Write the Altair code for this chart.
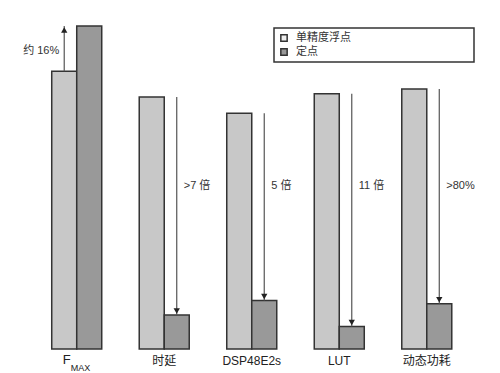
import altair as alt
import pandas as pd

categories = ["FMAX", "时延", "DSP48E2s", "LUT", "动态功耗"]
cat_labels = ["F", "时延", "DSP48E2s", "LUT", "动态功耗"]
series = ["单精度浮点", "定点"]
float_vals = [86, 78, 73, 79, 80.5]
fixed_vals = [100, 10.5, 15, 7, 14]
arrow_texts = ["约 16%", ">7 倍", "5 倍", "11 倍", ">80%"]
legend_fills = ["#eeeeee", "#999999"]

FONT = "Arial, Liberation Sans, Noto Sans CJK SC"
W, H = 437.5, 323

rows = []
for c, f, x in zip(categories, float_vals, fixed_vals):
    rows.append({"cat": c, "series": series[0], "value": f})
    rows.append({"cat": c, "series": series[1], "value": x})
bars_df = pd.DataFrame(rows)

arr_rows = []
for i, c in enumerate(categories):
    arr_rows.append({
        "cat": c,
        "series": series[0] if i == 0 else series[1],
        "start": float_vals[i],
        "end": fixed_vals[i],
        "text": arrow_texts[i],
        "dir": "up" if i == 0 else "down",
        "label": cat_labels[i],
    })
arr_df = pd.DataFrame(arr_rows)

ysc = alt.Scale(domain=[0, 100])
xs = alt.X("cat:N", sort=categories, axis=None,
           scale=alt.Scale(paddingInner=0.4286, paddingOuter=0.214))
xo = alt.XOffset("series:N", sort=series, scale=alt.Scale(domain=series))

bars = alt.Chart(bars_df).mark_bar(stroke="#333333", strokeWidth=1.5).encode(
    x=xs, xOffset=xo,
    y=alt.Y("value:Q", axis=None, scale=ysc),
    color=alt.Color("series:N", sort=series,
                    scale=alt.Scale(domain=series, range=["#c8c8c8", "#999999"]),
                    legend=None),
)

arrows = alt.Chart(arr_df).mark_rule(color="#555555", strokeWidth=1.2).encode(
    x=xs, xOffset=xo,
    y=alt.Y("start:Q", axis=None, scale=ysc),
    y2="end:Q",
)

head_down = alt.Chart(arr_df).transform_filter("datum.dir == 'down'").mark_point(
    shape="triangle-down", filled=True, color="#222222", size=40, opacity=1, yOffset=-4
).encode(x=xs, xOffset=xo, y=alt.Y("end:Q", axis=None, scale=ysc))

head_up = alt.Chart(arr_df).transform_filter("datum.dir == 'up'").mark_point(
    shape="triangle-up", filled=True, color="#222222", size=40, opacity=1, yOffset=4
).encode(x=xs, xOffset=xo, y=alt.Y("end:Q", axis=None, scale=ysc))

lbl_down = alt.Chart(arr_df).transform_filter("datum.dir == 'down'").mark_text(
    align="left", baseline="middle", dx=7, font=FONT, fontSize=11, color="#333333"
).encode(x=xs, xOffset=xo, y=alt.value(160), text="text:N")

lbl_up = alt.Chart(arr_df).transform_filter("datum.dir == 'up'").mark_text(
    align="right", baseline="middle", dx=-5, font=FONT, fontSize=11, color="#333333"
).encode(x=xs, xOffset=xo, y=alt.value(25), text="text:N")

cat_txt = alt.Chart(arr_df).transform_filter("datum.cat != 'FMAX'").mark_text(
    align="center", baseline="middle", font=FONT, fontSize=12, color="#222222"
).encode(x=xs, y=alt.value(H + 12), text="label:N")

f_txt = alt.Chart(arr_df).transform_filter("datum.cat == 'FMAX'").mark_text(
    align="right", baseline="middle", font=FONT, fontSize=13, color="#222222", dx=-6
).encode(x=xs, y=alt.value(H + 11), text="label:N")

max_txt = alt.Chart(arr_df).transform_filter("datum.cat == 'FMAX'").mark_text(
    align="left", baseline="middle", font=FONT, fontSize=9, color="#222222", dx=-6
).encode(x=xs, y=alt.value(H + 19), text=alt.value("MAX"))

leg_df = pd.DataFrame({"name": series, "fill": legend_fills})

leg_box = alt.Chart(leg_df.head(1)).mark_rect(
    fill="white", stroke="#333333", strokeWidth=1.5
).encode(x=alt.value(241), x2=alt.value(441), y=alt.value(2), y2=alt.value(36))

leg_layers = []
for i, ypix in enumerate([12, 26]):
    one = leg_df.iloc[[i]]
    leg_layers.append(
        alt.Chart(one).mark_square(
            size=40, stroke="#333333", strokeWidth=1.5, opacity=1, fill=legend_fills[i]
        ).encode(x=alt.value(251), y=alt.value(ypix))
    )
    leg_layers.append(
        alt.Chart(one).mark_text(
            align="left", baseline="middle", font=FONT, fontSize=11, color="#333333"
        ).encode(x=alt.value(263), y=alt.value(ypix), text="name:N")
    )

chart = alt.layer(
    bars, arrows, head_down, head_up, lbl_down, lbl_up, cat_txt, f_txt, max_txt,
    leg_box, *leg_layers
).properties(
    width=W, height=H,
    autosize=alt.AutoSizeParams(type="none"),
    padding={"left": 25, "top": 18, "right": 21, "bottom": 25},
).configure_view(stroke=None)

chart.save("out.html", embed_options={"renderer": "svg", "actions": False})
